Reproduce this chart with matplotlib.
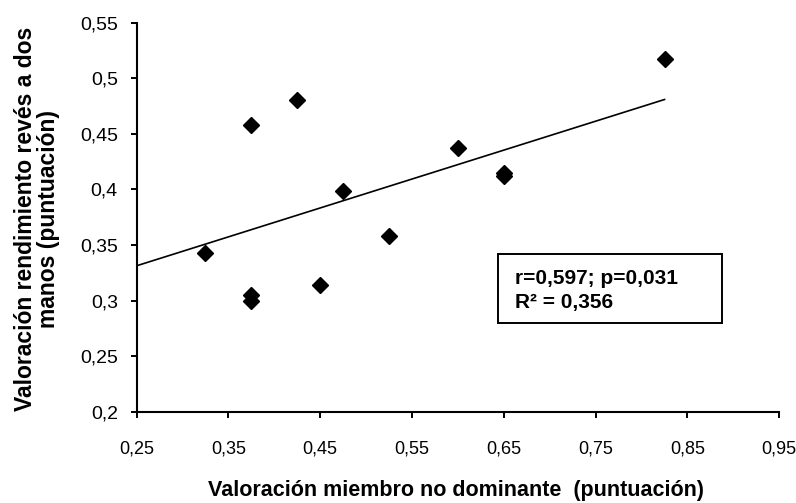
import numpy as np
import matplotlib.pyplot as plt
from matplotlib.ticker import FuncFormatter
from matplotlib.patches import Rectangle

plt.rcParams['font.family'] = ['Liberation Sans', 'DejaVu Sans']

# valoracion miembro no dominante vs rendimiento reves a dos manos
x = [0.325, 0.375, 0.375, 0.375, 0.425, 0.45, 0.475, 0.525, 0.60, 0.65, 0.65, 0.825]
y = [0.343, 0.458, 0.305, 0.300, 0.480, 0.314, 0.399, 0.358, 0.437, 0.415, 0.412, 0.517]

# linea de tendencia (y = a + b*x)
trend_intercept = 0.2664
trend_slope = 0.26
trend_x = [0.25, 0.825]

xticks = [0.25, 0.35, 0.45, 0.55, 0.65, 0.75, 0.85, 0.95]
yticks = [0.2, 0.25, 0.3, 0.35, 0.4, 0.45, 0.5, 0.55]
stats_lines = ["r=0,597; p=0,031", "R² = 0,356"]

fig = plt.figure(figsize=(7.96, 5.03), dpi=100)
ax = fig.add_axes([0.1716, 0.181, 0.8074, 0.774])

ax.plot(x, y, linestyle='none', marker='D', markersize=8.2, color='black')

xl = np.array(trend_x)
ax.plot(xl, trend_intercept + trend_slope * xl, color='black', linewidth=1.2)

ax.set_xlim(0.25, 0.95)
ax.set_ylim(0.2, 0.55)
ax.set_xticks(xticks)
ax.set_yticks(yticks)
comma = FuncFormatter(lambda v, p: "{:g}".format(round(v, 2)).replace('.', ','))
ax.xaxis.set_major_formatter(comma)
ax.yaxis.set_major_formatter(comma)
ax.tick_params(length=4.5, width=1.4, direction='out')
ax.tick_params(axis='x', pad=16, labelsize=13)
ax.tick_params(axis='y', pad=9, labelsize=14)

for s in ['top', 'right']:
    ax.spines[s].set_visible(False)
for s in ['left', 'bottom']:
    ax.spines[s].set_linewidth(1.5)

fig.text(0.5724, 0.0139, "Valoración miembro no dominante  (puntuación)", fontsize=15.5,
         fontweight='bold', ha='center', va='baseline')
fig.text(0.0465, 0.5646, "Valoración rendimiento revés a dos\nmanos (puntuación)",
         fontsize=16.5, fontweight='bold', rotation=90, ha='center', va='center',
         multialignment='center', linespacing=1.0)

# cuadro con estadisticos
fig.add_artist(Rectangle((0.6256, 0.3579), 0.2814, 0.1372, transform=fig.transFigure,
                         facecolor='white', edgecolor='black', linewidth=1.4))
fig.text(0.647, 0.4354, stats_lines[0], fontsize=15, fontweight='bold', va='baseline')
fig.text(0.647, 0.3877, stats_lines[1], fontsize=15, fontweight='bold', va='baseline')

fig.savefig('out.png', dpi=100)
